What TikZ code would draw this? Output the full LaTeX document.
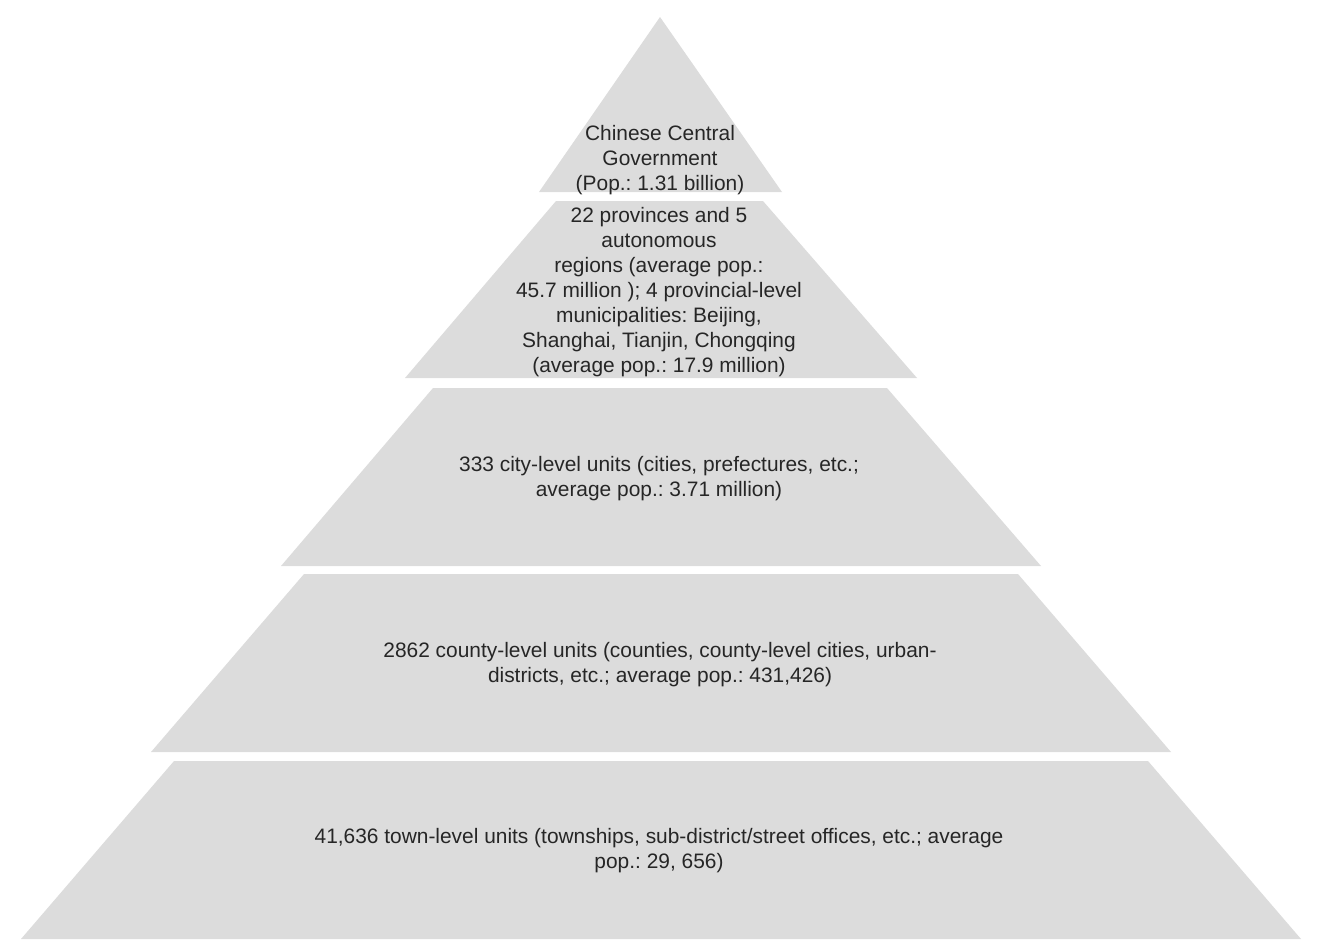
\documentclass[tikz,border=0pt]{standalone}
\usepackage{fontspec}
\setmainfont{Liberation Sans}
\usepackage{xcolor}
\usepackage{tikz}
\usetikzlibrary{positioning}
\frenchspacing
\definecolor{layercolor}{RGB}{220,220,220}
\definecolor{labelcolor}{RGB}{38,38,38}
\tikzset{
  layer/.style={
    fill=layercolor,
    draw=none
  },
  layer label/.style={
    align=center,
    inner sep=0pt,
    text=labelcolor,
    font=\fontsize{11.9pt}{14.2pt}\selectfont
  }
}
\begin{document}
\begin{tikzpicture}[x=0.02cm, y=-0.02cm]
  \useasboundingbox (0,0) rectangle (1322,950);

  % Top: central government
  \fill[layer] (660,17) -- (782,192) -- (539,192) -- cycle;
  \node[layer label] (central) at (660,160)
    {Chinese Central\\Government\\(Pop.: 1.31 billion)};

  % Provinces
  \fill[layer] (556,201) -- (763,201) -- (917,378) -- (405,378) -- cycle;
  \node[layer label] (province) at (659,292)
    {22 provinces and 5\\autonomous\\regions (average pop.:\\45.7 million ); 4 provincial-level\\municipalities: Beijing,\\Shanghai, Tianjin, Chongqing\\(average pop.: 17.9 million)};

  % Cities
  \fill[layer] (433,388) -- (887,388) -- (1041,566) -- (281,566) -- cycle;
  \node[layer label] (city) at (659,479)
    {333 city-level units (cities, prefectures, etc.;\\average pop.: 3.71 million)};

  % Counties
  \fill[layer] (304,574) -- (1018,574) -- (1171,752) -- (151,752) -- cycle;
  \node[layer label] (county) at (660,665)
    {2862 county-level units (counties, county-level cities, urban-\\districts, etc.; average pop.: 431,426)};

  % Towns
  \fill[layer] (174,761) -- (1148,761) -- (1301,939) -- (21,939) -- cycle;
  \node[layer label] (town) at (659,851)
    {41,636 town-level units (townships, sub-district/street offices, etc.; average\\pop.: 29, 656)};

\end{tikzpicture}
\end{document}
